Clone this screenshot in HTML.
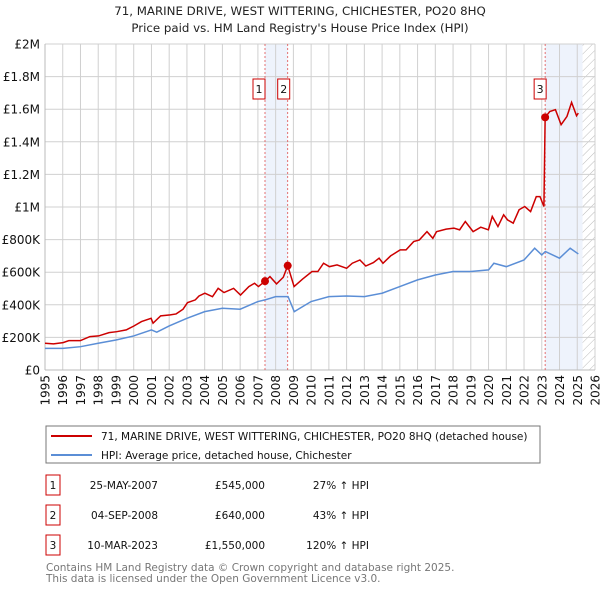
<!DOCTYPE html>
<html><head><meta charset="utf-8"><style>
body{margin:0;width:600px;height:590px;background:#fff;font-family:"DejaVu Sans","Liberation Sans",sans-serif;overflow:hidden}
svg{position:absolute;left:0;top:0}
</style></head><body>
<svg id="chart" width="600" height="590" xmlns="http://www.w3.org/2000/svg">
<defs><pattern id="hatch" width="6" height="6" patternUnits="userSpaceOnUse" patternTransform="rotate(45)"><line x1="0" y1="0" x2="0" y2="6" stroke="#bbb" stroke-width="1"/></pattern></defs>
<text x="300" y="15" text-anchor="middle" font-size="11.8" fill="#222">71, MARINE DRIVE, WEST WITTERING, CHICHESTER, PO20 8HQ</text>
<text x="300" y="32" text-anchor="middle" font-size="11.8" fill="#222">Price paid vs. HM Land Registry's House Price Index (HPI)</text>
<g id="plot"></g>
<g>
<rect x="46" y="426" width="494" height="37" fill="#fff" stroke="#777"/>
<line x1="51" y1="436" x2="92" y2="436" stroke="#cc0000" stroke-width="2"/>
<text x="101" y="440" font-size="10.5" fill="#111">71, MARINE DRIVE, WEST WITTERING, CHICHESTER, PO20 8HQ (detached house)</text>
<line x1="51" y1="455" x2="92" y2="455" stroke="#5b8ed6" stroke-width="2"/>
<text x="101" y="459" font-size="10.5" fill="#111">HPI: Average price, detached house, Chichester</text>
</g>
<g font-size="10.5" fill="#111">
<rect x="46" y="475" width="14" height="20" fill="#fff" stroke="#cc0000"/><text x="53" y="489" text-anchor="middle">1</text>
<text x="158" y="489" text-anchor="end">25-MAY-2007</text><text x="265" y="489" text-anchor="end">£545,000</text><text x="369" y="489" text-anchor="end">27% ↑ HPI</text>
<rect x="46" y="505" width="14" height="20" fill="#fff" stroke="#cc0000"/><text x="53" y="519" text-anchor="middle">2</text>
<text x="158" y="519" text-anchor="end">04-SEP-2008</text><text x="265" y="519" text-anchor="end">£640,000</text><text x="369" y="519" text-anchor="end">43% ↑ HPI</text>
<rect x="46" y="535" width="14" height="20" fill="#fff" stroke="#cc0000"/><text x="53" y="549" text-anchor="middle">3</text>
<text x="158" y="549" text-anchor="end">10-MAR-2023</text><text x="265" y="549" text-anchor="end">£1,550,000</text><text x="369" y="549" text-anchor="end">120% ↑ HPI</text>
</g>
<text x="46" y="571" font-size="10.5" fill="#777">Contains HM Land Registry data © Crown copyright and database right 2025.</text>
<text x="46" y="582" font-size="10.5" fill="#777">This data is licensed under the Open Government Licence v3.0.</text>
</svg>
<script>
const yTickValues=[0,200000,400000,600000,800000,1000000,1200000,1400000,1600000,1800000,2000000];
const yTickLabels=["£0","£200K","£400K","£600K","£800K","£1M","£1.2M","£1.4M","£1.6M","£1.8M","£2M"];
const xTickYears=[1995,1996,1997,1998,1999,2000,2001,2002,2003,2004,2005,2006,2007,2008,2009,2010,2011,2012,2013,2014,2015,2016,2017,2018,2019,2020,2021,2022,2023,2024,2025,2026];
const redYears=[1995.0,1995.48,1996.02,1996.34,1996.99,1997.53,1998.02,1998.61,1999.04,1999.58,2000.01,2000.44,2000.98,2001.09,2001.52,2002.06,2002.39,2002.78,2003.03,2003.47,2003.68,2004.01,2004.44,2004.76,2005.09,2005.63,2006.02,2006.49,2006.81,2007.03,2007.4,2007.68,2008.05,2008.43,2008.68,2009.04,2009.51,2010.05,2010.38,2010.7,2011.03,2011.46,2012.0,2012.32,2012.75,2013.08,2013.51,2013.83,2014.05,2014.48,2015.02,2015.35,2015.78,2016.1,2016.53,2016.86,2017.07,2017.61,2018.05,2018.37,2018.69,2019.13,2019.56,2019.99,2020.21,2020.53,2020.85,2021.07,2021.39,2021.72,2022.04,2022.37,2022.69,2022.9,2023.12,2023.19,2023.45,2023.77,2024.09,2024.42,2024.68,2024.96,2025.06];
const redValues=[164,160,168,180,180,205,209,229,235,246,270,297,317,287,332,338,344,373,413,430,454,471,450,501,475,501,460,512,532,512,545,573,528,569,640,512,557,604,604,655,634,645,624,655,675,638,659,686,655,700,737,737,788,798,849,808,849,864,870,860,911,849,876,860,942,880,952,921,901,983,1003,972,1064,1064,1003,1550,1586,1597,1505,1556,1642,1560,1576];
const blueYears=[1995.0,1996.0,1997.0,1998.0,1999.0,2000.0,2001.0,2001.3,2002.0,2003.0,2004.0,2005.0,2006.0,2007.0,2007.4,2008.0,2008.7,2009.05,2010.0,2011.0,2012.0,2013.0,2014.0,2015.0,2016.0,2017.0,2018.0,2019.0,2020.0,2020.3,2021.0,2022.0,2022.6,2023.0,2023.2,2024.0,2024.6,2025.06];
const blueValues=[133,133,143,164,184,209,246,232,270,317,358,379,373,420,430,450,450,358,420,450,454,450,471,512,553,583,604,604,614,655,634,675,747,706,727,686,747,712];
const saleYears=[2007.4,2008.68,2023.19];
const saleValues=[545,640,1550];
const saleLabels=["1","2","3"];
const X0=45,X1=595,Y0=370,Y1=44,YR0=1995,YR1=2026,VMAX=2000000;
const xs=y=>X0+(y-YR0)/(YR1-YR0)*(X1-X0);
const ys=v=>Y0-v/VMAX*(Y0-Y1);
const NS="http://www.w3.org/2000/svg";
const g=document.getElementById('plot');
function mk(t,a){const e=document.createElementNS(NS,t);for(const k in a)e.setAttribute(k,a[k]);g.appendChild(e);return e;}
let e;
e=mk('rect',{x:xs(saleYears[0]),y:Y1,width:xs(saleYears[1])-xs(saleYears[0]),height:Y0-Y1,fill:'#eef3fc'});


e=mk('rect',{x:xs(saleYears[2]),y:Y1,width:xs(2025.3)-xs(saleYears[2]),height:Y0-Y1,fill:'#eef3fc'});


e=mk('rect',{x:xs(2025.3),y:Y1,width:X1-xs(2025.3),height:Y0-Y1,fill:'url(#hatch)'});


yTickValues.forEach((v,i)=>{
 e=mk('line',{x1:X0,x2:X1,y1:ys(v),y2:ys(v),stroke:'#d0d0d0'});
 
 
 e=mk('text',{x:X0-5,y:ys(v)+4.5,'text-anchor':'end','font-size':'12',fill:'#111'});
 e.textContent=yTickLabels[i];
 
 
});
xTickYears.forEach(yr=>{
 e=mk('line',{x1:xs(yr),x2:xs(yr),y1:Y1,y2:Y0,stroke:'#d0d0d0'});
 
 
 e=mk('text',{x:0,y:0,'text-anchor':'end','font-size':'12',fill:'#111',transform:`translate(${xs(yr)+4.5},${Y0+5}) rotate(-90)`});
 e.textContent=yr;
 
 
});
e=mk('line',{x1:X0,x2:X1,y1:Y0,y2:Y0,stroke:'#bbb'});


e=mk('line',{x1:X0,x2:X0,y1:Y1,y2:Y0,stroke:'#bbb'});


saleYears.forEach((yr,i)=>{
 e=mk('line',{x1:xs(yr),x2:xs(yr),y1:Y1,y2:Y0,stroke:'#e05050','stroke-dasharray':'2,2','stroke-width':'0.8'});
 
 
});
e=mk('polyline',{points:blueYears.map((y,i)=>xs(y)+','+ys(blueValues[i]*1000)).join(' '),fill:'none',stroke:'#5b8ed6','stroke-width':'1.5'});


e=mk('polyline',{points:redYears.map((y,i)=>xs(y)+','+ys(redValues[i]*1000)).join(' '),fill:'none',stroke:'#cc0000','stroke-width':'1.5'});


saleYears.forEach((yr,i)=>{
 e=mk('circle',{cx:xs(yr),cy:ys(saleValues[i]*1000),r:4,fill:'#cc0000'});
 
 
 e=mk('rect',{x:(i==0?xs(yr)-12:(i==1?xs(yr)-10:xs(yr)-11)),y:79,width:12,height:20,fill:'#fff',stroke:'#cc0000'});
 
 
 e=mk('text',{x:(i==0?xs(yr)-6:(i==1?xs(yr)-4:xs(yr)-5)),y:93,'text-anchor':'middle','font-size':'11',fill:'#111'});
 e.textContent=saleLabels[i];
 
 
});
</script>
</body></html>
